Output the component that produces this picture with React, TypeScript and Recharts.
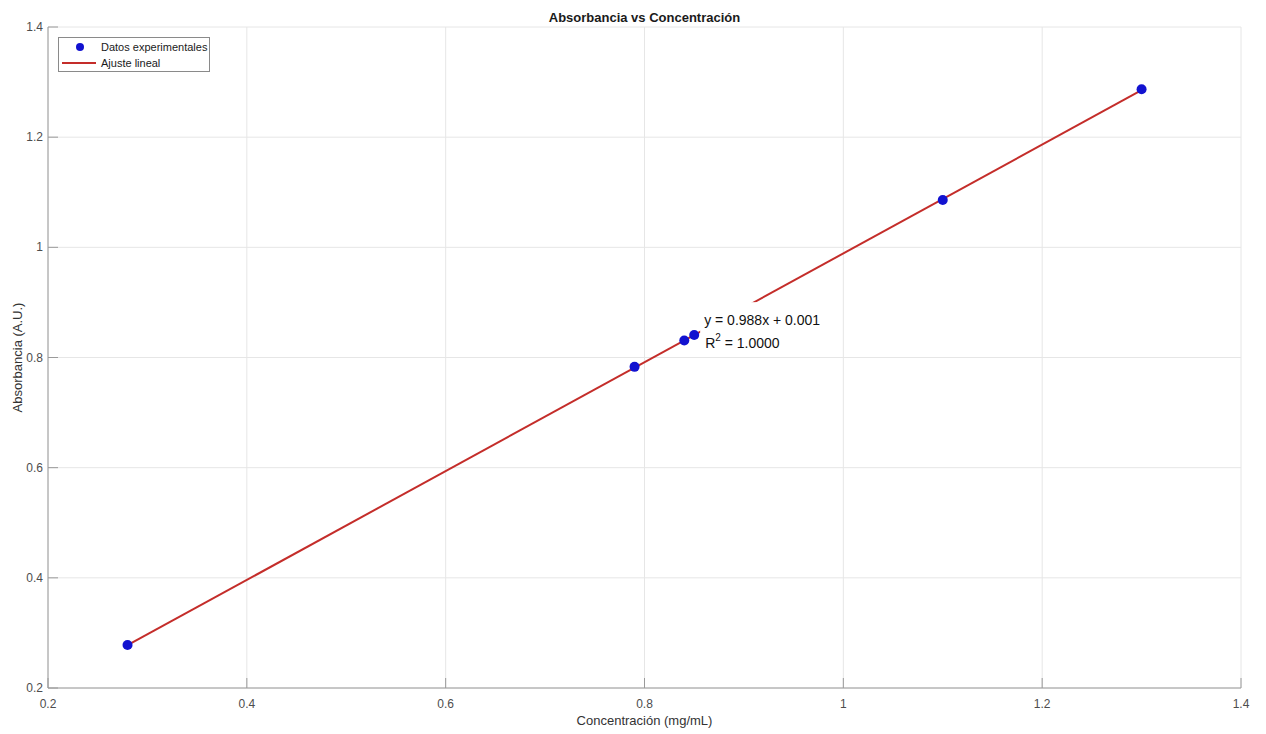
import {
  CartesianGrid,
  ComposedChart,
  Label,
  Legend,
  Line,
  ReferenceDot,
  Scatter,
  XAxis,
  YAxis,
} from "recharts";

// Measured standards: concentration (mg/mL) vs absorbance (A.U.)
const concentrations = [0.28, 0.79, 0.84, 0.85, 1.1, 1.3];
const absorbances = [0.278, 0.783, 0.831, 0.841, 1.086, 1.287];

// Least-squares fit reported on the plot
const fitSlope = 0.988;
const fitIntercept = 0.001;
const fitR2 = "1.0000";

const xTicks = [0.2, 0.4, 0.6, 0.8, 1, 1.2, 1.4];
const yTicks = [0.2, 0.4, 0.6, 0.8, 1, 1.2, 1.4];

const points = concentrations.map((x, i) => ({ x, y: absorbances[i] }));
const fitRange = [Math.min(...concentrations), Math.max(...concentrations)];
const fitLine = fitRange.map((x) => ({ x, y: fitSlope * x + fitIntercept }));

const FONT = '"Liberation Sans", Arial, Helvetica, sans-serif';
const TICK_COLOR = "#4d4d4d";
const AXIS_COLOR = "#9a9a9a";
const DOT_COLOR = "#1212d0";
const FIT_COLOR = "#c42d2a";

const X_MARGIN = 12;
const Y_MARGIN = 5;
const TICK_LEN = 10;

const fmt = (v: number) => String(Number(v.toFixed(2)));

// MATLAB-style ticks: short marks pointing into the plot, labels outside
function XTick(props: any) {
  const { x, y, payload } = props;
  const axisY = y - X_MARGIN;
  return (
    <g>
      <line x1={x} y1={axisY} x2={x} y2={axisY - TICK_LEN} stroke={AXIS_COLOR} />
      <text x={x} y={y + 8} textAnchor="middle" fill={TICK_COLOR} fontSize={12} fontFamily={FONT}>
        {fmt(payload.value)}
      </text>
    </g>
  );
}

function YTick(props: any) {
  const { x, y, payload } = props;
  const axisX = x + Y_MARGIN;
  return (
    <g>
      <line x1={axisX} y1={y} x2={axisX + TICK_LEN} y2={y} stroke={AXIS_COLOR} />
      <text x={x} y={y + 4} textAnchor="end" fill={TICK_COLOR} fontSize={12} fontFamily={FONT}>
        {fmt(payload.value)}
      </text>
    </g>
  );
}

function XAxisTitle({ viewBox }: any) {
  const cx = viewBox.x + viewBox.width / 2;
  return (
    <g fontFamily={FONT}>
      <text x={cx} y={viewBox.y + 37} textAnchor="middle" fill="#333" fontSize={13}>
        Concentración (mg/mL)
      </text>
      <text x={cx} y={22} textAnchor="middle" fill="#1a1a1a" fontSize={13} fontWeight="bold">
        Absorbancia vs Concentración
      </text>
    </g>
  );
}

function YAxisTitle({ viewBox }: any) {
  const cy = viewBox.y + viewBox.height / 2;
  return (
    <text
      x={22}
      y={cy}
      textAnchor="middle"
      fill="#333"
      fontSize={13}
      fontFamily={FONT}
      transform={`rotate(-90, 22, ${cy})`}
    >
      Absorbancia (A.U.)
    </text>
  );
}

function FitNote(props: any) {
  const { cx, cy } = props;
  return (
    <g fontFamily={FONT} fontSize={14} fill="#111">
      <rect x={cx - 4} y={cy - 30} width={124} height={53} fill="#fff" />
      <text x={cx} y={cy - 7}>
        {`y = ${fitSlope.toFixed(3)}x + ${fitIntercept.toFixed(3)}`}
      </text>
      <text x={cx + 1} y={cy + 16}>
        R
        <tspan dy={-7} fontSize={10}>
          2
        </tspan>
        <tspan dy={7}>{` = ${fitR2}`}</tspan>
      </text>
    </g>
  );
}

function LegendBox() {
  return (
    <svg width={152} height={35} style={{ display: "block" }}>
      <rect x={0.5} y={0.5} width={151} height={34} fill="#fff" stroke="#8a8a8a" />
      <circle cx={22} cy={10} r={4} fill={DOT_COLOR} />
      <text x={43} y={14} fontSize={11} fontFamily={FONT} fill="#1a1a1a">
        Datos experimentales
      </text>
      <line x1={4} y1={26} x2={38} y2={26} stroke={FIT_COLOR} strokeWidth={2} />
      <text x={43} y={30} fontSize={11} fontFamily={FONT} fill="#1a1a1a">
        Ajuste lineal
      </text>
    </svg>
  );
}

export default function App() {
  return (
    <div style={{ position: "absolute", left: 0, top: 0, background: "#fff" }}>
      <ComposedChart
        width={1266}
        height={734}
        margin={{ top: 27, right: 25, bottom: 0, left: 0 }}
      >
        <CartesianGrid stroke="#e6e6e6" />
        <XAxis
          type="number"
          dataKey="x"
          domain={[0.2, 1.4]}
          ticks={xTicks}
          interval={0}
          height={46}
          tickSize={0}
          tickMargin={X_MARGIN}
          tick={<XTick />}
          stroke={AXIS_COLOR}
          allowDataOverflow
        >
          <Label content={<XAxisTitle />} />
        </XAxis>
        <YAxis
          type="number"
          dataKey="y"
          domain={[0.2, 1.4]}
          ticks={yTicks}
          interval={0}
          width={48}
          tickSize={0}
          tickMargin={Y_MARGIN}
          tick={<YTick />}
          stroke={AXIS_COLOR}
          allowDataOverflow
        >
          <Label content={<YAxisTitle />} />
        </YAxis>
        <Scatter
          data={points}
          isAnimationActive={false}
          shape={(p: any) => <circle cx={p.cx} cy={p.cy} r={5} fill={DOT_COLOR} />}
        />
        <Line
          data={fitLine}
          dataKey="y"
          type="linear"
          stroke={FIT_COLOR}
          strokeWidth={2}
          dot={false}
          activeDot={false}
          isAnimationActive={false}
        />
        <ReferenceDot x={0.86} y={0.846} r={0} shape={<FitNote />} />
        {/* vertical + center + middle keeps the legend out of the plot offsets */}
        <Legend
          layout="vertical"
          verticalAlign="middle"
          align="center"
          content={<LegendBox />}
          wrapperStyle={{ left: 58, top: 37, width: 152, height: 35 }}
        />
      </ComposedChart>
    </div>
  );
}
